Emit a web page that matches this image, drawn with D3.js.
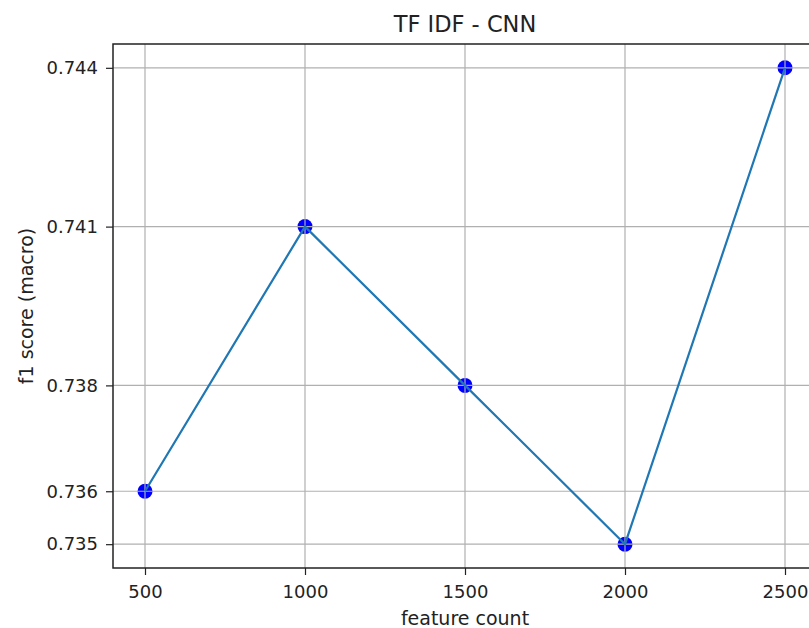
<!DOCTYPE html>
<html>
<head>
<meta charset="utf-8">
<script src="https://cdn.jsdelivr.net/npm/d3@7"></script>
<style>
  body { margin: 0; background: #fff; }
  svg text { font-family: "DejaVu Sans", sans-serif; fill: #222; }
</style>
</head>
<body>
<div id="chart"></div>
<script>
// data
var featureCounts = [500, 1000, 1500, 2000, 2500];
var f1Scores = [0.736, 0.741, 0.738, 0.735, 0.744];
var xTicks = [500, 1000, 1500, 2000, 2500];
var yTicks = [0.735, 0.736, 0.738, 0.741, 0.744];

var W = 809, H = 628;
var m = {top: 44, left: 113, bottom: 60};
var plotW = 817 - m.left, plotH = 568 - m.top;

var svg = d3.select('#chart').append('svg')
    .attr('width', W)
    .attr('height', H);

var x = d3.scaleLinear().domain([400, 2600]).range([m.left, m.left + plotW]);
var y = d3.scaleLinear().domain([0.73455, 0.74445]).range([m.top + plotH, m.top]);

var g = svg.append('g');

// markers
g.selectAll('circle')
    .data(featureCounts).enter()
    .append('circle')
      .attr('cx', function(d) { return x(d); })
      .attr('cy', function(d, i) { return y(f1Scores[i]); })
      .attr('r', 7.5)
      .attr('fill', '#0000ff');

// grid
g.selectAll('.vgrid')
    .data(xTicks).enter()
    .append('line')
      .attr('x1', function(d) { return x(d); })
      .attr('x2', function(d) { return x(d); })
      .attr('y1', m.top)
      .attr('y2', m.top + plotH)
      .attr('stroke', '#b0b0b0')
      .attr('stroke-width', 1.2);
g.selectAll('.hgrid')
    .data(yTicks).enter()
    .append('line')
      .attr('x1', m.left)
      .attr('x2', m.left + plotW)
      .attr('y1', function(d) { return y(d); })
      .attr('y2', function(d) { return y(d); })
      .attr('stroke', '#b0b0b0')
      .attr('stroke-width', 1.2);

// line
var line = d3.line()
    .x(function(d) { return x(d); })
    .y(function(d, i) { return y(f1Scores[i]); });
g.append('path')
    .datum(featureCounts)
    .attr('d', line)
    .attr('fill', 'none')
    .attr('stroke', '#1f77b4')
    .attr('stroke-width', 2.2);

// axes
var xAxis = d3.axisBottom(x).tickValues(xTicks).tickFormat(d3.format('d')).tickSizeOuter(0).tickSize(7).tickPadding(10);
var yAxis = d3.axisLeft(y).tickValues(yTicks).tickFormat(d3.format('.3f')).tickSizeOuter(0).tickSize(7).tickPadding(8);

function styleAxis(a) {
  a.attr('font-size', 18).attr('font-family', 'DejaVu Sans');
  a.select('.domain').remove();
  a.selectAll('text').style('font-size', '18px').attr('fill', '#222');
  a.selectAll('line').attr('stroke', '#222').attr('stroke-width', 1.2);
}

svg.append('g')
    .attr('transform', 'translate(0,' + (m.top + plotH) + ')')
    .call(xAxis)
    .call(styleAxis);
svg.append('g')
    .attr('transform', 'translate(' + m.left + ',0)')
    .call(yAxis)
    .call(styleAxis);

// frame
svg.append('rect')
    .attr('x', m.left)
    .attr('y', m.top)
    .attr('width', plotW)
    .attr('height', plotH)
    .attr('fill', 'none')
    .attr('stroke', '#222')
    .attr('stroke-width', 1.5);

// labels
svg.append('text')
    .attr('x', x(1500))
    .attr('y', 32)
    .attr('text-anchor', 'middle')
    .style('font-size', '22.5px')
    .text('TF IDF - CNN');
svg.append('text')
    .attr('x', x(1500))
    .attr('y', 625)
    .attr('text-anchor', 'middle')
    .style('font-size', '19px')
    .text('feature count');
svg.append('text')
    .attr('transform', 'translate(33,' + (m.top + plotH / 2) + ') rotate(-90)')
    .attr('text-anchor', 'middle')
    .style('font-size', '19px')
    .text('f1 score (macro)');
</script>
</body>
</html>
